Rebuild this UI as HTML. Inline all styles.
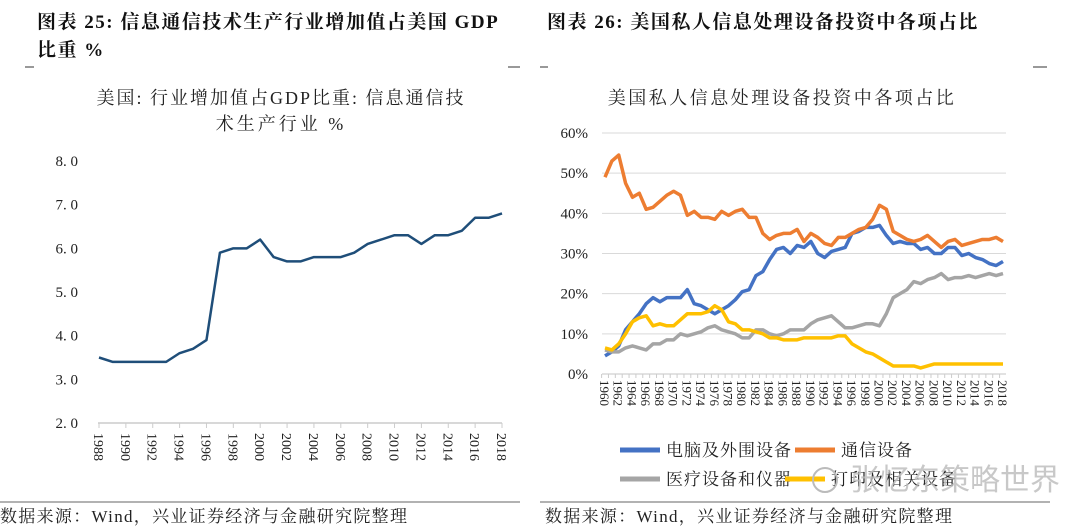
<!DOCTYPE html>
<html><head><meta charset="utf-8"><style>
body{margin:0;background:#fff;}
svg{display:block;font-family:"Liberation Serif","Noto Serif CJK SC",serif;}
.t{font-weight:bold;font-size:19px;fill:#111;letter-spacing:1.5px;}
</style></head><body>
<svg id="root" width="1080" height="530" viewBox="0 0 1080 530">
<text class="t" x="37" y="28">图表 25:  信息通信技术生产行业增加值占美国 GDP</text>
<text class="t" x="37" y="56">比重  %</text>
<line x1="25" y1="67" x2="34" y2="67" stroke="#333"/><line x1="508" y1="67" x2="520" y2="67" stroke="#333"/>
<text class="t" x="547" y="28" letter-spacing="2.5">图表 26:  美国私人信息处理设备投资中各项占比</text>
<line x1="540" y1="67" x2="548" y2="67" stroke="#333"/><line x1="1033" y1="67" x2="1047" y2="67" stroke="#333"/>

<text x="281" y="104" text-anchor="middle" font-size="18" letter-spacing="2" fill="#222">美国: 行业增加值占GDP比重: 信息通信技</text>
<text x="281" y="130" text-anchor="middle" font-size="18" letter-spacing="3" fill="#222">术生产行业  %</text>
<g id="left"></g>

<text x="782" y="104" text-anchor="middle" font-size="18" fill="#222" letter-spacing="2.5">美国私人信息处理设备投资中各项占比</text>
<g id="right"></g>

<g font-size="17" fill="#222" letter-spacing="1">
<g><line x1="620" y1="450" x2="660" y2="450" stroke="#4472C4" stroke-width="5"/><text x="666" y="456">电脑及外围设备</text></g>
<g><line x1="795" y1="450" x2="835" y2="450" stroke="#ED7D31" stroke-width="5"/><text x="841" y="456">通信设备</text></g>
<g><line x1="620" y1="479" x2="660" y2="479" stroke="#A5A5A5" stroke-width="5"/><text x="666" y="485">医疗设备和仪器</text></g>
<g><line x1="785" y1="479" x2="825" y2="479" stroke="#FFC000" stroke-width="5"/><text x="831" y="485">打印及相关设备</text></g>
</g>
<text x="850" y="490" font-size="30" fill="#bbb" opacity="0.8" font-family="Liberation Sans,Noto Sans CJK SC,sans-serif">张忆东策略世界</text>
<circle cx="825" cy="480" r="12" fill="none" stroke="#bbb" stroke-width="2"/>

<line x1="0" y1="502" x2="520" y2="502" stroke="#666"/>
<line x1="540" y1="502" x2="1050" y2="502" stroke="#666"/>
<text x="0" y="522" font-size="17" letter-spacing="1.3" fill="#222">数据来源：Wind，兴业证券经济与金融研究院整理</text>
<text x="545" y="522" font-size="17" letter-spacing="1.3" fill="#222">数据来源：Wind，兴业证券经济与金融研究院整理</text>
</svg>
<script>
const NS="http://www.w3.org/2000/svg";
// Left chart data
const leftYears=[1988,1989,1990,1991,1992,1993,1994,1995,1996,1997,1998,1999,2000,2001,2002,2003,2004,2005,2006,2007,2008,2009,2010,2011,2012,2013,2014,2015,2016,2017,2018];
const leftValues=[3.5,3.4,3.4,3.4,3.4,3.4,3.6,3.7,3.9,5.9,6.0,6.0,6.2,5.8,5.7,5.7,5.8,5.8,5.8,5.9,6.1,6.2,6.3,6.3,6.1,6.3,6.3,6.4,6.7,6.7,6.8];
const leftTicks=[2,3,4,5,6,7,8];
const leftTickLabels=["2. 0","3. 0","4. 0","5. 0","6. 0","7. 0","8. 0"];
// Right chart data
const rightYears=[];for(let y=1960;y<=2018;y++)rightYears.push(y);
const computers=[4.5,5.5,7,11,13,15,17.5,19,18,19, 19,19,21,17.5,17,16,15,16,17,18.5, 20.5,21,24.5,25.5,28.5,31,31.5,30,32,31.5, 33,30,29,30.5,31,31.5,35,35.5,36.5,36.5, 37,34.5,32.5,33,32.5,32.5,31,31.5,30,30, 31.5,31.5,29.5,30,29,28.5,27.5,27,28];
const communications=[49,53,54.5,47.5,44,45,41,41.5,43,44.5, 45.5,44.5,39.5,40.5,39,39,38.5,40.5,39.5,40.5, 41,39,39,35,33.5,34.5,35,35,36,33, 35,34,32.5,32,34,34,35,36,36.5,38.5, 42,41,35.5,34.5,33.5,33,33.5,34.5,33,31.5, 33,33.5,32,32.5,33,33.5,33.5,34,33];
const medical=[6,5.5,5.5,6.5,7,6.5,6,7.5,7.5,8.5, 8.5,10,9.5,10,10.5,11.5,12,11,10.5,10, 9,9,11,11,10,9.5,10,11,11,11, 12.5,13.5,14,14.5,13,11.5,11.5,12,12.5,12.5, 12,15,19,20,21,23,22.5,23.5,24,25, 23.5,24,24,24.5,24,24.5,25,24.5,25];
const printing=[6.5,6,7.5,10,13,14,14.5,12,12.5,12, 12,13.5,15,15,15,15.5,17,16,13,12.5, 11,11,10.5,10,9,9,8.5,8.5,8.5,9, 9,9,9,9,9.5,9.5,7.5,6.5,5.5,5, 4,3,2,2,2,2,1.5,2,2.5,2.5, 2.5,2.5,2.5,2.5,2.5,2.5,2.5,2.5,2.5];
const rightTicks=[0,10,20,30,40,50,60];
const seriesNames=["computers","communications","medical","printing"];
const seriesColors=["#4472C4","#ED7D31","#A5A5A5","#FFC000"];

function mk(tag,attrs,parent){const e=document.createElementNS(NS,tag);for(const k in attrs)e.setAttribute(k,attrs[k]);parent.appendChild(e);return e;}

// LEFT
const L=document.getElementById('left');
const lx=y=>99+(y-1988)*(502-99)/30;
const ly=v=>423-(v-2)*(423-161)/6;
leftTicks.forEach((t,i)=>{const e=mk('text',{x:78,y:ly(t)+5,'text-anchor':'end','font-size':15,fill:'#222'},L);e.textContent=leftTickLabels[i];

});
mk('line',{x1:98,y1:423,x2:502,y2:423,stroke:'#ccc','stroke-width':1.5},L);
leftYears.forEach(y=>{if((y-1988)%2===0){mk('line',{x1:lx(y),y1:423,x2:lx(y),y2:428,stroke:'#ccc'},L);
const e=mk('text',{x:0,y:0,'font-size':14,fill:'#222',transform:`translate(${lx(y)-5},433) rotate(90)`},L);e.textContent=y;

}});
const lp=mk('polyline',{points:leftValues.map((v,i)=>lx(leftYears[i])+','+ly(v)).join(' '),fill:'none',stroke:'#1F4E79','stroke-width':2.5,'stroke-linejoin':'round'},L);



// RIGHT
const R=document.getElementById('right');
const rx=y=>605+(y-1960)*(1003-605)/58;
const ry=v=>374-v*(374-133)/60;
rightTicks.forEach(t=>{if(t>0)mk('line',{x1:602,y1:ry(t),x2:1006,y2:ry(t),stroke:'#d9d9d9'},R);
const e=mk('text',{x:588,y:ry(t)+5,'text-anchor':'end','font-size':15,fill:'#222'},R);e.textContent=t+'%';

});
mk('line',{x1:602,y1:374,x2:1006,y2:374,stroke:'#d9d9d9','stroke-width':1.5},R);
rightYears.forEach(y=>{mk('line',{x1:rx(y)-3.4,y1:374,x2:rx(y)-3.4,y2:378,stroke:'#ccc'},R);
if((y-1960)%2===0){const e=mk('text',{x:0,y:0,'font-size':13,fill:'#222',transform:`translate(${rx(y)-5},380) rotate(90)`},R);e.textContent=y;

}});
[computers,communications,medical,printing].forEach((arr,si)=>{
const p=mk('polyline',{points:arr.map((v,i)=>rx(rightYears[i])+','+ry(v)).join(' '),fill:'none',stroke:seriesColors[si],'stroke-width':3.5,'stroke-linejoin':'round'},R);

});
</script>
</body></html>
